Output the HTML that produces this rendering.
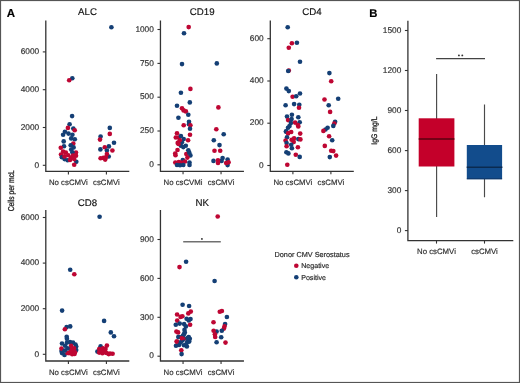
<!DOCTYPE html><html><head><meta charset="utf-8"><style>html,body{margin:0;padding:0;background:#fff;}svg{display:block;will-change:transform;text-rendering:geometricPrecision;font-family:"Liberation Sans",sans-serif;}</style></head><body>
<svg width="520" height="383" viewBox="0 0 520 383">
<rect width="520" height="383" fill="#fff"/>
<rect x="0.5" y="0.5" width="519" height="382" fill="none" stroke="#555" stroke-width="1.2"/>
<text x="6.8" y="16.8" font-size="11.5" font-weight="bold" fill="#000" stroke="#000" stroke-width="0.15">A</text>
<text x="369.3" y="16.5" font-size="11.3" font-weight="bold" fill="#000" stroke="#000" stroke-width="0.2">B</text>
<path d="M45.8 20.5V171.4H129.3" fill="none" stroke="#333333" stroke-width="1.3"/>
<path d="M42.8 165.3H45.8" stroke="#333333" stroke-width="1.1"/>
<text x="39.2" y="167.5" text-anchor="end" font-size="8.3" fill="#2e2e2e" stroke="#2e2e2e" stroke-width="0.16">0</text>
<path d="M42.8 127.5H45.8" stroke="#333333" stroke-width="1.1"/>
<text x="39.2" y="129.7" text-anchor="end" font-size="8.3" fill="#2e2e2e" stroke="#2e2e2e" stroke-width="0.16">2000</text>
<path d="M42.8 89.7H45.8" stroke="#333333" stroke-width="1.1"/>
<text x="39.2" y="91.9" text-anchor="end" font-size="8.3" fill="#2e2e2e" stroke="#2e2e2e" stroke-width="0.16">4000</text>
<path d="M42.8 51.9H45.8" stroke="#333333" stroke-width="1.1"/>
<text x="39.2" y="54.1" text-anchor="end" font-size="8.3" fill="#2e2e2e" stroke="#2e2e2e" stroke-width="0.16">6000</text>
<path d="M68.4 171.4V174.4" stroke="#333333" stroke-width="1.1"/>
<text x="68.4" y="185" text-anchor="middle" font-size="7.8" fill="#2e2e2e" stroke="#2e2e2e" stroke-width="0.16">No csCMVi</text>
<path d="M106.4 171.4V174.4" stroke="#333333" stroke-width="1.1"/>
<text x="106.4" y="185" text-anchor="middle" font-size="7.8" fill="#2e2e2e" stroke="#2e2e2e" stroke-width="0.16">csCMVi</text>
<text x="87.55" y="15.2" text-anchor="middle" font-size="9.7" fill="#111" stroke="#111" stroke-width="0.15">ALC</text>
<circle cx="111.4" cy="27.25" r="2.32" fill="#143f75"/>
<circle cx="72.3" cy="78.2" r="2.32" fill="#143f75"/>
<circle cx="69.2" cy="80.2" r="2.32" fill="#be0633"/>
<circle cx="72.1" cy="116.1" r="2.32" fill="#143f75"/>
<circle cx="69.6" cy="124.3" r="2.32" fill="#143f75"/>
<circle cx="73.3" cy="128.5" r="2.32" fill="#143f75"/>
<circle cx="67.9" cy="127.9" r="2.32" fill="#be0633"/>
<circle cx="74.7" cy="130.2" r="2.32" fill="#be0633"/>
<circle cx="64.9" cy="131.8" r="2.32" fill="#143f75"/>
<circle cx="68.5" cy="133.6" r="2.32" fill="#143f75"/>
<circle cx="63.1" cy="134.8" r="2.32" fill="#143f75"/>
<circle cx="72.4" cy="134.8" r="2.32" fill="#143f75"/>
<circle cx="71.2" cy="138.4" r="2.32" fill="#143f75"/>
<circle cx="74.8" cy="139.3" r="2.32" fill="#143f75"/>
<circle cx="63.7" cy="141.4" r="2.32" fill="#143f75"/>
<circle cx="73.3" cy="143.5" r="2.32" fill="#be0633"/>
<circle cx="70.7" cy="145.2" r="2.32" fill="#143f75"/>
<circle cx="73.6" cy="147.4" r="2.32" fill="#143f75"/>
<circle cx="64" cy="146.2" r="2.32" fill="#143f75"/>
<circle cx="60.8" cy="147.7" r="2.32" fill="#be0633"/>
<circle cx="71.2" cy="149.6" r="2.32" fill="#143f75"/>
<circle cx="63.1" cy="151.6" r="2.32" fill="#be0633"/>
<circle cx="65.8" cy="152.5" r="2.32" fill="#be0633"/>
<circle cx="76" cy="152.6" r="2.32" fill="#be0633"/>
<circle cx="61" cy="154.6" r="2.32" fill="#be0633"/>
<circle cx="72.4" cy="152.2" r="2.32" fill="#143f75"/>
<circle cx="68.2" cy="155.2" r="2.32" fill="#be0633"/>
<circle cx="73" cy="155.5" r="2.32" fill="#be0633"/>
<circle cx="76" cy="155.8" r="2.32" fill="#be0633"/>
<circle cx="61.9" cy="157.3" r="2.32" fill="#143f75"/>
<circle cx="64.6" cy="159.1" r="2.32" fill="#143f75"/>
<circle cx="67.6" cy="160.3" r="2.32" fill="#143f75"/>
<circle cx="76.3" cy="161.8" r="2.32" fill="#143f75"/>
<circle cx="64.6" cy="156.4" r="2.32" fill="#be0633"/>
<circle cx="70.9" cy="157.9" r="2.32" fill="#be0633"/>
<circle cx="70" cy="160" r="2.32" fill="#be0633"/>
<circle cx="74.2" cy="159.1" r="2.32" fill="#be0633"/>
<circle cx="74.2" cy="164.8" r="2.32" fill="#be0633"/>
<circle cx="109.8" cy="127.9" r="2.32" fill="#143f75"/>
<circle cx="109.8" cy="133.9" r="2.32" fill="#be0633"/>
<circle cx="100.6" cy="136.6" r="2.32" fill="#143f75"/>
<circle cx="100" cy="139.6" r="2.32" fill="#be0633"/>
<circle cx="114" cy="142.7" r="2.32" fill="#143f75"/>
<circle cx="108.9" cy="146.4" r="2.32" fill="#143f75"/>
<circle cx="104.8" cy="147.3" r="2.32" fill="#be0633"/>
<circle cx="100.4" cy="149.4" r="2.32" fill="#143f75"/>
<circle cx="112.4" cy="150.5" r="2.32" fill="#be0633"/>
<circle cx="106.9" cy="150.5" r="2.32" fill="#143f75"/>
<circle cx="108.7" cy="156.5" r="2.32" fill="#143f75"/>
<circle cx="106.9" cy="154" r="2.32" fill="#be0633"/>
<circle cx="100.6" cy="158.2" r="2.32" fill="#be0633"/>
<circle cx="103.4" cy="157.9" r="2.32" fill="#be0633"/>
<circle cx="105.2" cy="159.6" r="2.32" fill="#be0633"/>
<circle cx="105.9" cy="157.2" r="2.32" fill="#be0633"/>
<path d="M160.45 20.5V171.3H243.95" fill="none" stroke="#333333" stroke-width="1.3"/>
<path d="M157.45 164.8H160.45" stroke="#333333" stroke-width="1.1"/>
<text x="153.85" y="167" text-anchor="end" font-size="8.3" fill="#2e2e2e" stroke="#2e2e2e" stroke-width="0.16">0</text>
<path d="M157.45 131H160.45" stroke="#333333" stroke-width="1.1"/>
<text x="153.85" y="133.2" text-anchor="end" font-size="8.3" fill="#2e2e2e" stroke="#2e2e2e" stroke-width="0.16">250</text>
<path d="M157.45 97.2H160.45" stroke="#333333" stroke-width="1.1"/>
<text x="153.85" y="99.4" text-anchor="end" font-size="8.3" fill="#2e2e2e" stroke="#2e2e2e" stroke-width="0.16">500</text>
<path d="M157.45 63.4H160.45" stroke="#333333" stroke-width="1.1"/>
<text x="153.85" y="65.6" text-anchor="end" font-size="8.3" fill="#2e2e2e" stroke="#2e2e2e" stroke-width="0.16">750</text>
<path d="M157.45 29.5H160.45" stroke="#333333" stroke-width="1.1"/>
<text x="153.85" y="31.7" text-anchor="end" font-size="8.3" fill="#2e2e2e" stroke="#2e2e2e" stroke-width="0.16">1000</text>
<path d="M183.05 171.3V174.3" stroke="#333333" stroke-width="1.1"/>
<text x="183.05" y="184.9" text-anchor="middle" font-size="7.8" fill="#2e2e2e" stroke="#2e2e2e" stroke-width="0.16">No csCVMi</text>
<path d="M221.05 171.3V174.3" stroke="#333333" stroke-width="1.1"/>
<text x="221.05" y="184.9" text-anchor="middle" font-size="7.8" fill="#2e2e2e" stroke="#2e2e2e" stroke-width="0.16">csCMVi</text>
<text x="202.2" y="15.2" text-anchor="middle" font-size="9.7" fill="#111" stroke="#111" stroke-width="0.15">CD19</text>
<circle cx="188.7" cy="27.1" r="2.32" fill="#be0633"/>
<circle cx="184" cy="33.3" r="2.32" fill="#143f75"/>
<circle cx="182" cy="64.1" r="2.32" fill="#143f75"/>
<circle cx="216.8" cy="63.4" r="2.32" fill="#143f75"/>
<circle cx="190.4" cy="88.9" r="2.32" fill="#be0633"/>
<circle cx="180.9" cy="92.7" r="2.32" fill="#143f75"/>
<circle cx="189.8" cy="102.4" r="2.32" fill="#143f75"/>
<circle cx="177" cy="105.8" r="2.32" fill="#143f75"/>
<circle cx="182" cy="108.3" r="2.32" fill="#be0633"/>
<circle cx="183.6" cy="110.4" r="2.32" fill="#be0633"/>
<circle cx="185.9" cy="111.4" r="2.32" fill="#be0633"/>
<circle cx="188.3" cy="114.7" r="2.32" fill="#143f75"/>
<circle cx="178.4" cy="117.8" r="2.32" fill="#143f75"/>
<circle cx="189" cy="121.8" r="2.32" fill="#143f75"/>
<circle cx="189" cy="124.2" r="2.32" fill="#143f75"/>
<circle cx="183.7" cy="125.3" r="2.32" fill="#be0633"/>
<circle cx="190.4" cy="125.3" r="2.32" fill="#be0633"/>
<circle cx="190" cy="128.8" r="2.32" fill="#143f75"/>
<circle cx="177" cy="133.2" r="2.32" fill="#be0633"/>
<circle cx="190" cy="134.7" r="2.32" fill="#be0633"/>
<circle cx="175.8" cy="137.5" r="2.32" fill="#be0633"/>
<circle cx="178.8" cy="137.5" r="2.32" fill="#be0633"/>
<circle cx="180.9" cy="136.1" r="2.32" fill="#143f75"/>
<circle cx="183.7" cy="139.1" r="2.32" fill="#143f75"/>
<circle cx="188.1" cy="140.3" r="2.32" fill="#be0633"/>
<circle cx="177.7" cy="142.9" r="2.32" fill="#be0633"/>
<circle cx="181.9" cy="142.2" r="2.32" fill="#143f75"/>
<circle cx="180.9" cy="145.7" r="2.32" fill="#143f75"/>
<circle cx="185.8" cy="145.7" r="2.32" fill="#143f75"/>
<circle cx="183.3" cy="147.1" r="2.32" fill="#143f75"/>
<circle cx="179.8" cy="140.2" r="2.32" fill="#be0633"/>
<circle cx="178.5" cy="144" r="2.32" fill="#be0633"/>
<circle cx="188.3" cy="150.2" r="2.32" fill="#143f75"/>
<circle cx="177.5" cy="150" r="2.32" fill="#be0633"/>
<circle cx="175.2" cy="153.5" r="2.32" fill="#be0633"/>
<circle cx="186.3" cy="154" r="2.32" fill="#be0633"/>
<circle cx="189.3" cy="152.8" r="2.32" fill="#143f75"/>
<circle cx="190.4" cy="155.4" r="2.32" fill="#143f75"/>
<circle cx="187.4" cy="157.6" r="2.32" fill="#be0633"/>
<circle cx="175.5" cy="155.3" r="2.32" fill="#be0633"/>
<circle cx="182.8" cy="160" r="2.32" fill="#143f75"/>
<circle cx="175.3" cy="162.5" r="2.32" fill="#be0633"/>
<circle cx="178.8" cy="162" r="2.32" fill="#be0633"/>
<circle cx="181.3" cy="162.5" r="2.32" fill="#be0633"/>
<circle cx="185" cy="161.5" r="2.32" fill="#be0633"/>
<circle cx="177" cy="165" r="2.32" fill="#143f75"/>
<circle cx="180" cy="165.3" r="2.32" fill="#143f75"/>
<circle cx="183.3" cy="165" r="2.32" fill="#143f75"/>
<circle cx="189.5" cy="162.5" r="2.32" fill="#143f75"/>
<circle cx="189.5" cy="165" r="2.32" fill="#143f75"/>
<circle cx="218.4" cy="107.4" r="2.32" fill="#be0633"/>
<circle cx="216.3" cy="129.2" r="2.32" fill="#be0633"/>
<circle cx="223.7" cy="134.3" r="2.32" fill="#143f75"/>
<circle cx="213.8" cy="140.2" r="2.32" fill="#143f75"/>
<circle cx="219.5" cy="145.1" r="2.32" fill="#143f75"/>
<circle cx="214.5" cy="150.7" r="2.32" fill="#be0633"/>
<circle cx="220.2" cy="150.8" r="2.32" fill="#be0633"/>
<circle cx="213.5" cy="160.9" r="2.32" fill="#143f75"/>
<circle cx="222.6" cy="158.1" r="2.32" fill="#143f75"/>
<circle cx="221.6" cy="160.9" r="2.32" fill="#143f75"/>
<circle cx="227.6" cy="159.5" r="2.32" fill="#143f75"/>
<circle cx="227.6" cy="165.1" r="2.32" fill="#143f75"/>
<circle cx="218" cy="160.2" r="2.32" fill="#be0633"/>
<circle cx="218" cy="163" r="2.32" fill="#be0633"/>
<circle cx="226.2" cy="163" r="2.32" fill="#be0633"/>
<circle cx="228.6" cy="162.3" r="2.32" fill="#be0633"/>
<path d="M270.3 20.5V171.3H353.8" fill="none" stroke="#333333" stroke-width="1.3"/>
<path d="M267.3 165.5H270.3" stroke="#333333" stroke-width="1.1"/>
<text x="263.7" y="167.7" text-anchor="end" font-size="8.3" fill="#2e2e2e" stroke="#2e2e2e" stroke-width="0.16">0</text>
<path d="M267.3 123.2H270.3" stroke="#333333" stroke-width="1.1"/>
<text x="263.7" y="125.4" text-anchor="end" font-size="8.3" fill="#2e2e2e" stroke="#2e2e2e" stroke-width="0.16">200</text>
<path d="M267.3 81H270.3" stroke="#333333" stroke-width="1.1"/>
<text x="263.7" y="83.2" text-anchor="end" font-size="8.3" fill="#2e2e2e" stroke="#2e2e2e" stroke-width="0.16">400</text>
<path d="M267.3 38.7H270.3" stroke="#333333" stroke-width="1.1"/>
<text x="263.7" y="40.9" text-anchor="end" font-size="8.3" fill="#2e2e2e" stroke="#2e2e2e" stroke-width="0.16">600</text>
<path d="M292.9 171.3V174.3" stroke="#333333" stroke-width="1.1"/>
<text x="292.9" y="184.9" text-anchor="middle" font-size="7.8" fill="#2e2e2e" stroke="#2e2e2e" stroke-width="0.16">No csCMVi</text>
<path d="M330.9 171.3V174.3" stroke="#333333" stroke-width="1.1"/>
<text x="330.9" y="184.9" text-anchor="middle" font-size="7.8" fill="#2e2e2e" stroke="#2e2e2e" stroke-width="0.16">csCMVi</text>
<text x="312.05" y="15.2" text-anchor="middle" font-size="9.7" fill="#111" stroke="#111" stroke-width="0.15">CD4</text>
<circle cx="287.7" cy="27.3" r="2.32" fill="#143f75"/>
<circle cx="291.9" cy="43.2" r="2.32" fill="#be0633"/>
<circle cx="296.9" cy="42.8" r="2.32" fill="#143f75"/>
<circle cx="288.8" cy="47.8" r="2.32" fill="#be0633"/>
<circle cx="300" cy="61.8" r="2.32" fill="#143f75"/>
<circle cx="288.8" cy="70.6" r="2.32" fill="#be0633"/>
<circle cx="288.2" cy="71" r="2.32" fill="#143f75"/>
<circle cx="286.4" cy="88.6" r="2.32" fill="#143f75"/>
<circle cx="288.8" cy="91.1" r="2.32" fill="#143f75"/>
<circle cx="292.6" cy="96.7" r="2.32" fill="#be0633"/>
<circle cx="296.2" cy="96.3" r="2.32" fill="#143f75"/>
<circle cx="300" cy="93.5" r="2.32" fill="#143f75"/>
<circle cx="285.6" cy="105.2" r="2.32" fill="#143f75"/>
<circle cx="294.1" cy="104.1" r="2.32" fill="#143f75"/>
<circle cx="299.3" cy="104.8" r="2.32" fill="#143f75"/>
<circle cx="299" cy="107.7" r="2.32" fill="#be0633"/>
<circle cx="291.9" cy="114.8" r="2.32" fill="#143f75"/>
<circle cx="287" cy="116.6" r="2.32" fill="#143f75"/>
<circle cx="298.3" cy="117.3" r="2.32" fill="#143f75"/>
<circle cx="288.1" cy="120.1" r="2.32" fill="#be0633"/>
<circle cx="291.6" cy="119.1" r="2.32" fill="#143f75"/>
<circle cx="290.9" cy="122.9" r="2.32" fill="#143f75"/>
<circle cx="295.1" cy="122.6" r="2.32" fill="#be0633"/>
<circle cx="299.7" cy="122.2" r="2.32" fill="#143f75"/>
<circle cx="297.9" cy="125.1" r="2.32" fill="#be0633"/>
<circle cx="289.5" cy="126.1" r="2.32" fill="#143f75"/>
<circle cx="288" cy="127.8" r="2.32" fill="#143f75"/>
<circle cx="298.3" cy="126.4" r="2.32" fill="#be0633"/>
<circle cx="285.9" cy="131.6" r="2.32" fill="#143f75"/>
<circle cx="286.3" cy="131.4" r="2.32" fill="#143f75"/>
<circle cx="288.1" cy="133.4" r="2.32" fill="#be0633"/>
<circle cx="291.2" cy="132" r="2.32" fill="#be0633"/>
<circle cx="300.2" cy="133.6" r="2.32" fill="#be0633"/>
<circle cx="287" cy="137.3" r="2.32" fill="#143f75"/>
<circle cx="285.6" cy="140.5" r="2.32" fill="#be0633"/>
<circle cx="291.6" cy="139.8" r="2.32" fill="#be0633"/>
<circle cx="294.1" cy="138.3" r="2.32" fill="#be0633"/>
<circle cx="298.3" cy="139.1" r="2.32" fill="#143f75"/>
<circle cx="300.4" cy="139.4" r="2.32" fill="#be0633"/>
<circle cx="293.7" cy="141.9" r="2.32" fill="#be0633"/>
<circle cx="286.6" cy="143" r="2.32" fill="#143f75"/>
<circle cx="291.2" cy="144.7" r="2.32" fill="#143f75"/>
<circle cx="286.6" cy="146.3" r="2.32" fill="#be0633"/>
<circle cx="297.9" cy="147.3" r="2.32" fill="#be0633"/>
<circle cx="291.9" cy="148.2" r="2.32" fill="#143f75"/>
<circle cx="286.4" cy="152.3" r="2.32" fill="#143f75"/>
<circle cx="288.4" cy="153.4" r="2.32" fill="#143f75"/>
<circle cx="295.8" cy="154.8" r="2.32" fill="#be0633"/>
<circle cx="299.7" cy="156.9" r="2.32" fill="#143f75"/>
<circle cx="287.3" cy="164.7" r="2.32" fill="#be0633"/>
<circle cx="329.4" cy="73.1" r="2.32" fill="#143f75"/>
<circle cx="331.2" cy="81.3" r="2.32" fill="#be0633"/>
<circle cx="324.5" cy="99.5" r="2.32" fill="#be0633"/>
<circle cx="338.2" cy="98.8" r="2.32" fill="#143f75"/>
<circle cx="328.7" cy="105.2" r="2.32" fill="#143f75"/>
<circle cx="330.1" cy="111.9" r="2.32" fill="#be0633"/>
<circle cx="335.1" cy="121.7" r="2.32" fill="#143f75"/>
<circle cx="334.3" cy="123.5" r="2.32" fill="#be0633"/>
<circle cx="333.3" cy="125.9" r="2.32" fill="#143f75"/>
<circle cx="327.6" cy="127.7" r="2.32" fill="#143f75"/>
<circle cx="325.5" cy="129.5" r="2.32" fill="#143f75"/>
<circle cx="323.4" cy="130.9" r="2.32" fill="#be0633"/>
<circle cx="329.1" cy="136.2" r="2.32" fill="#be0633"/>
<circle cx="332.2" cy="140.3" r="2.32" fill="#143f75"/>
<circle cx="324.8" cy="145.9" r="2.32" fill="#be0633"/>
<circle cx="331.2" cy="150.7" r="2.32" fill="#be0633"/>
<circle cx="333.3" cy="151.1" r="2.32" fill="#be0633"/>
<circle cx="336.1" cy="155.6" r="2.32" fill="#be0633"/>
<circle cx="329.8" cy="157.1" r="2.32" fill="#143f75"/>
<path d="M45.8 210V361H129.3" fill="none" stroke="#333333" stroke-width="1.3"/>
<path d="M42.8 354.3H45.8" stroke="#333333" stroke-width="1.1"/>
<text x="39.2" y="356.5" text-anchor="end" font-size="8.3" fill="#2e2e2e" stroke="#2e2e2e" stroke-width="0.16">0</text>
<path d="M42.8 308.7H45.8" stroke="#333333" stroke-width="1.1"/>
<text x="39.2" y="310.9" text-anchor="end" font-size="8.3" fill="#2e2e2e" stroke="#2e2e2e" stroke-width="0.16">2000</text>
<path d="M42.8 263.1H45.8" stroke="#333333" stroke-width="1.1"/>
<text x="39.2" y="265.3" text-anchor="end" font-size="8.3" fill="#2e2e2e" stroke="#2e2e2e" stroke-width="0.16">4000</text>
<path d="M42.8 217.5H45.8" stroke="#333333" stroke-width="1.1"/>
<text x="39.2" y="219.7" text-anchor="end" font-size="8.3" fill="#2e2e2e" stroke="#2e2e2e" stroke-width="0.16">6000</text>
<path d="M68.4 361V364" stroke="#333333" stroke-width="1.1"/>
<text x="68.4" y="374.6" text-anchor="middle" font-size="7.8" fill="#2e2e2e" stroke="#2e2e2e" stroke-width="0.16">No csCMVi</text>
<path d="M106.4 361V364" stroke="#333333" stroke-width="1.1"/>
<text x="106.4" y="374.6" text-anchor="middle" font-size="7.8" fill="#2e2e2e" stroke="#2e2e2e" stroke-width="0.16">csCMVi</text>
<text x="87.55" y="205.7" text-anchor="middle" font-size="9.7" fill="#111" stroke="#111" stroke-width="0.15">CD8</text>
<circle cx="99.6" cy="216.8" r="2.32" fill="#143f75"/>
<circle cx="70.2" cy="269.7" r="2.32" fill="#143f75"/>
<circle cx="74.3" cy="274.2" r="2.32" fill="#be0633"/>
<circle cx="62.1" cy="310.6" r="2.32" fill="#143f75"/>
<circle cx="66.6" cy="327.1" r="2.32" fill="#143f75"/>
<circle cx="70.2" cy="326.4" r="2.32" fill="#143f75"/>
<circle cx="64.9" cy="329.2" r="2.32" fill="#be0633"/>
<circle cx="66.7" cy="336.8" r="2.32" fill="#143f75"/>
<circle cx="66.9" cy="338.8" r="2.32" fill="#143f75"/>
<circle cx="62" cy="343.5" r="2.32" fill="#143f75"/>
<circle cx="67" cy="342.6" r="2.32" fill="#143f75"/>
<circle cx="70" cy="342.1" r="2.32" fill="#143f75"/>
<circle cx="73" cy="342.6" r="2.32" fill="#143f75"/>
<circle cx="75.5" cy="344.5" r="2.32" fill="#143f75"/>
<circle cx="76.2" cy="346.5" r="2.32" fill="#143f75"/>
<circle cx="76.2" cy="350" r="2.32" fill="#143f75"/>
<circle cx="62" cy="353.1" r="2.32" fill="#143f75"/>
<circle cx="61.5" cy="351" r="2.32" fill="#143f75"/>
<circle cx="64.5" cy="355" r="2.32" fill="#143f75"/>
<circle cx="61.5" cy="348.6" r="2.32" fill="#be0633"/>
<circle cx="71.1" cy="345.8" r="2.32" fill="#be0633"/>
<circle cx="74" cy="348.4" r="2.32" fill="#be0633"/>
<circle cx="72.2" cy="351" r="2.32" fill="#be0633"/>
<circle cx="69" cy="353.1" r="2.32" fill="#be0633"/>
<circle cx="75" cy="352.3" r="2.32" fill="#be0633"/>
<circle cx="70.2" cy="349" r="2.32" fill="#be0633"/>
<circle cx="72.2" cy="354.2" r="2.32" fill="#be0633"/>
<circle cx="67.5" cy="353" r="2.32" fill="#be0633"/>
<circle cx="74.5" cy="354" r="2.32" fill="#be0633"/>
<circle cx="65.1" cy="345.8" r="2.32" fill="#143f75"/>
<circle cx="67.5" cy="348.4" r="2.32" fill="#143f75"/>
<circle cx="64.8" cy="350.6" r="2.32" fill="#143f75"/>
<circle cx="104.1" cy="320.9" r="2.32" fill="#143f75"/>
<circle cx="110.8" cy="332.4" r="2.32" fill="#143f75"/>
<circle cx="114" cy="336.2" r="2.32" fill="#143f75"/>
<circle cx="100.6" cy="346.3" r="2.32" fill="#143f75"/>
<circle cx="97.4" cy="351.6" r="2.32" fill="#143f75"/>
<circle cx="106.9" cy="345.6" r="2.32" fill="#be0633"/>
<circle cx="99.2" cy="349.1" r="2.32" fill="#be0633"/>
<circle cx="103.1" cy="348.4" r="2.32" fill="#be0633"/>
<circle cx="105.5" cy="349.1" r="2.32" fill="#be0633"/>
<circle cx="99.2" cy="352.6" r="2.32" fill="#be0633"/>
<circle cx="102.4" cy="353.3" r="2.32" fill="#be0633"/>
<circle cx="105.2" cy="352.3" r="2.32" fill="#be0633"/>
<circle cx="108.7" cy="354.1" r="2.32" fill="#be0633"/>
<circle cx="112.6" cy="353.7" r="2.32" fill="#be0633"/>
<circle cx="101.5" cy="350.5" r="2.32" fill="#be0633"/>
<circle cx="104" cy="351" r="2.32" fill="#be0633"/>
<circle cx="106.5" cy="353" r="2.32" fill="#be0633"/>
<circle cx="110" cy="353.5" r="2.32" fill="#be0633"/>
<path d="M160.45 210V361H243.95" fill="none" stroke="#333333" stroke-width="1.3"/>
<path d="M157.45 356.2H160.45" stroke="#333333" stroke-width="1.1"/>
<text x="153.85" y="358.4" text-anchor="end" font-size="8.3" fill="#2e2e2e" stroke="#2e2e2e" stroke-width="0.16">0</text>
<path d="M157.45 317.3H160.45" stroke="#333333" stroke-width="1.1"/>
<text x="153.85" y="319.5" text-anchor="end" font-size="8.3" fill="#2e2e2e" stroke="#2e2e2e" stroke-width="0.16">300</text>
<path d="M157.45 278.4H160.45" stroke="#333333" stroke-width="1.1"/>
<text x="153.85" y="280.6" text-anchor="end" font-size="8.3" fill="#2e2e2e" stroke="#2e2e2e" stroke-width="0.16">600</text>
<path d="M157.45 239.5H160.45" stroke="#333333" stroke-width="1.1"/>
<text x="153.85" y="241.7" text-anchor="end" font-size="8.3" fill="#2e2e2e" stroke="#2e2e2e" stroke-width="0.16">900</text>
<path d="M183.05 361V364" stroke="#333333" stroke-width="1.1"/>
<text x="183.05" y="374.6" text-anchor="middle" font-size="7.8" fill="#2e2e2e" stroke="#2e2e2e" stroke-width="0.16">No csCMVi</text>
<path d="M221.05 361V364" stroke="#333333" stroke-width="1.1"/>
<text x="221.05" y="374.6" text-anchor="middle" font-size="7.8" fill="#2e2e2e" stroke="#2e2e2e" stroke-width="0.16">csCMVi</text>
<text x="202.2" y="205.7" text-anchor="middle" font-size="9.7" fill="#111" stroke="#111" stroke-width="0.15">NK</text>
<circle cx="217.7" cy="216.5" r="2.32" fill="#be0633"/>
<circle cx="186.1" cy="261.8" r="2.32" fill="#143f75"/>
<circle cx="179.5" cy="267.1" r="2.32" fill="#be0633"/>
<circle cx="214.6" cy="281" r="2.32" fill="#143f75"/>
<circle cx="182.6" cy="304.7" r="2.32" fill="#143f75"/>
<circle cx="189.1" cy="306" r="2.32" fill="#143f75"/>
<circle cx="190.8" cy="311.6" r="2.32" fill="#be0633"/>
<circle cx="188.3" cy="313.4" r="2.32" fill="#be0633"/>
<circle cx="177.1" cy="314.5" r="2.32" fill="#be0633"/>
<circle cx="180.6" cy="316.9" r="2.32" fill="#be0633"/>
<circle cx="182.4" cy="316.2" r="2.32" fill="#be0633"/>
<circle cx="177.2" cy="320.6" r="2.32" fill="#be0633"/>
<circle cx="186.6" cy="318.7" r="2.32" fill="#143f75"/>
<circle cx="190.5" cy="319.1" r="2.32" fill="#143f75"/>
<circle cx="188.7" cy="320.4" r="2.32" fill="#143f75"/>
<circle cx="175.8" cy="324.8" r="2.32" fill="#143f75"/>
<circle cx="179.7" cy="323.6" r="2.32" fill="#143f75"/>
<circle cx="184.1" cy="324.1" r="2.32" fill="#143f75"/>
<circle cx="190.1" cy="324.8" r="2.32" fill="#be0633"/>
<circle cx="185.9" cy="326.4" r="2.32" fill="#143f75"/>
<circle cx="184.5" cy="329.9" r="2.32" fill="#143f75"/>
<circle cx="176.4" cy="331.6" r="2.32" fill="#be0633"/>
<circle cx="178.1" cy="332.4" r="2.32" fill="#be0633"/>
<circle cx="184.8" cy="332.4" r="2.32" fill="#143f75"/>
<circle cx="184.1" cy="334.1" r="2.32" fill="#143f75"/>
<circle cx="179.2" cy="337" r="2.32" fill="#143f75"/>
<circle cx="188.7" cy="337" r="2.32" fill="#143f75"/>
<circle cx="189.8" cy="338.7" r="2.32" fill="#143f75"/>
<circle cx="181.8" cy="337.9" r="2.32" fill="#be0633"/>
<circle cx="184.1" cy="338.7" r="2.32" fill="#be0633"/>
<circle cx="177.1" cy="341.5" r="2.32" fill="#be0633"/>
<circle cx="180.6" cy="342.5" r="2.32" fill="#143f75"/>
<circle cx="187.2" cy="342" r="2.32" fill="#143f75"/>
<circle cx="176" cy="345.8" r="2.32" fill="#143f75"/>
<circle cx="184" cy="345.3" r="2.32" fill="#143f75"/>
<circle cx="186.9" cy="346.5" r="2.32" fill="#143f75"/>
<circle cx="181.3" cy="350.2" r="2.32" fill="#be0633"/>
<circle cx="181.6" cy="354.1" r="2.32" fill="#143f75"/>
<circle cx="182.5" cy="340.5" r="2.32" fill="#143f75"/>
<circle cx="186" cy="344.5" r="2.32" fill="#143f75"/>
<circle cx="179" cy="345" r="2.32" fill="#143f75"/>
<circle cx="183" cy="335.5" r="2.32" fill="#143f75"/>
<circle cx="178.3" cy="337" r="2.32" fill="#143f75"/>
<circle cx="187.4" cy="338" r="2.32" fill="#143f75"/>
<circle cx="189.2" cy="341.6" r="2.32" fill="#143f75"/>
<circle cx="180.1" cy="342.5" r="2.32" fill="#143f75"/>
<circle cx="181.9" cy="338.3" r="2.32" fill="#be0633"/>
<circle cx="176.6" cy="341.6" r="2.32" fill="#be0633"/>
<circle cx="219.8" cy="311.7" r="2.32" fill="#be0633"/>
<circle cx="221.9" cy="311" r="2.32" fill="#be0633"/>
<circle cx="226.9" cy="317" r="2.32" fill="#143f75"/>
<circle cx="213.5" cy="322.3" r="2.32" fill="#be0633"/>
<circle cx="225.1" cy="324.1" r="2.32" fill="#143f75"/>
<circle cx="224.5" cy="326.4" r="2.32" fill="#be0633"/>
<circle cx="223.9" cy="328.6" r="2.32" fill="#be0633"/>
<circle cx="216.6" cy="331.6" r="2.32" fill="#143f75"/>
<circle cx="213.6" cy="330.7" r="2.32" fill="#be0633"/>
<circle cx="221.8" cy="330.7" r="2.32" fill="#143f75"/>
<circle cx="214.9" cy="334.2" r="2.32" fill="#be0633"/>
<circle cx="215.2" cy="337" r="2.32" fill="#be0633"/>
<circle cx="221.2" cy="337.3" r="2.32" fill="#143f75"/>
<circle cx="216.6" cy="342.3" r="2.32" fill="#143f75"/>
<circle cx="225.5" cy="342.6" r="2.32" fill="#be0633"/>
<path d="M183.2 241.8H220.8" stroke="#707070" stroke-width="1.5"/>
<circle cx="201.9" cy="238.9" r="0.95" fill="#333"/>
<text transform="translate(13.9 190.8) rotate(-90) scale(0.79 1)" text-anchor="middle" font-size="8.5" fill="#222" stroke="#222" stroke-width="0.3">Cells per mcL</text>
<text x="274.5" y="256.8" font-size="7.3" fill="#2a2a2a" stroke="#2a2a2a" stroke-width="0.18">Donor CMV Serostatus</text>
<circle cx="296.3" cy="265.8" r="2.3" fill="#be0633"/>
<circle cx="296.3" cy="277.2" r="2.3" fill="#143f75"/>
<text x="301.2" y="268.3" font-size="7.1" fill="#2a2a2a" stroke="#2a2a2a" stroke-width="0.18">Negative</text>
<text x="301.2" y="279.6" font-size="7.1" fill="#2a2a2a" stroke="#2a2a2a" stroke-width="0.18">Positive</text>
<path d="M407.9 20.8V240.6H513.3" fill="none" stroke="#333333" stroke-width="1.3"/>
<path d="M404.9 230.6H407.9" stroke="#333333" stroke-width="1.1"/>
<text x="401.3" y="232.8" text-anchor="end" font-size="8.3" fill="#2e2e2e" stroke="#2e2e2e" stroke-width="0.16">0</text>
<path d="M404.9 190.6H407.9" stroke="#333333" stroke-width="1.1"/>
<text x="401.3" y="192.8" text-anchor="end" font-size="8.3" fill="#2e2e2e" stroke="#2e2e2e" stroke-width="0.16">300</text>
<path d="M404.9 150.6H407.9" stroke="#333333" stroke-width="1.1"/>
<text x="401.3" y="152.8" text-anchor="end" font-size="8.3" fill="#2e2e2e" stroke="#2e2e2e" stroke-width="0.16">600</text>
<path d="M404.9 110.5H407.9" stroke="#333333" stroke-width="1.1"/>
<text x="401.3" y="112.7" text-anchor="end" font-size="8.3" fill="#2e2e2e" stroke="#2e2e2e" stroke-width="0.16">900</text>
<path d="M404.9 70.5H407.9" stroke="#333333" stroke-width="1.1"/>
<text x="401.3" y="72.7" text-anchor="end" font-size="8.3" fill="#2e2e2e" stroke="#2e2e2e" stroke-width="0.16">1200</text>
<path d="M404.9 30.5H407.9" stroke="#333333" stroke-width="1.1"/>
<text x="401.3" y="32.7" text-anchor="end" font-size="8.3" fill="#2e2e2e" stroke="#2e2e2e" stroke-width="0.16">1500</text>
<path d="M436.5 240.6V243.6" stroke="#333333" stroke-width="1.1"/>
<text x="436.5" y="254.2" text-anchor="middle" font-size="7.8" fill="#2e2e2e" stroke="#2e2e2e" stroke-width="0.16">No csCMVi</text>
<path d="M484.5 240.6V243.6" stroke="#333333" stroke-width="1.1"/>
<text x="484.5" y="254.2" text-anchor="middle" font-size="7.8" fill="#2e2e2e" stroke="#2e2e2e" stroke-width="0.16">csCMVi</text>
<path d="M436.6 73.9V217M484.5 104.4V197.2" stroke="#4a4a4a" stroke-width="1.15"/>
<rect x="418.7" y="118.3" width="35.7" height="48.2" fill="#c4002a"/>
<rect x="466.8" y="145" width="35.3" height="34.2" fill="#124c8c"/>
<path d="M466.8 178.8H502.1" stroke="#0c2f5a" stroke-width="0.8"/>
<path d="M418.7 139H454.4" stroke="#5a0010" stroke-width="1.5"/>
<path d="M466.7 167.2H502.4" stroke="#0a2a50" stroke-width="1.5"/>
<path d="M436.1 58.7H485" stroke="#444" stroke-width="1.3"/>
<circle cx="458.9" cy="55.4" r="0.95" fill="#333"/>
<circle cx="462.3" cy="55.4" r="0.95" fill="#333"/>
<text transform="translate(377.0 130.6) rotate(-90) scale(0.86 1)" text-anchor="middle" font-size="8" fill="#222" stroke="#222" stroke-width="0.3">IgG mg/L</text>
</svg></body></html>
